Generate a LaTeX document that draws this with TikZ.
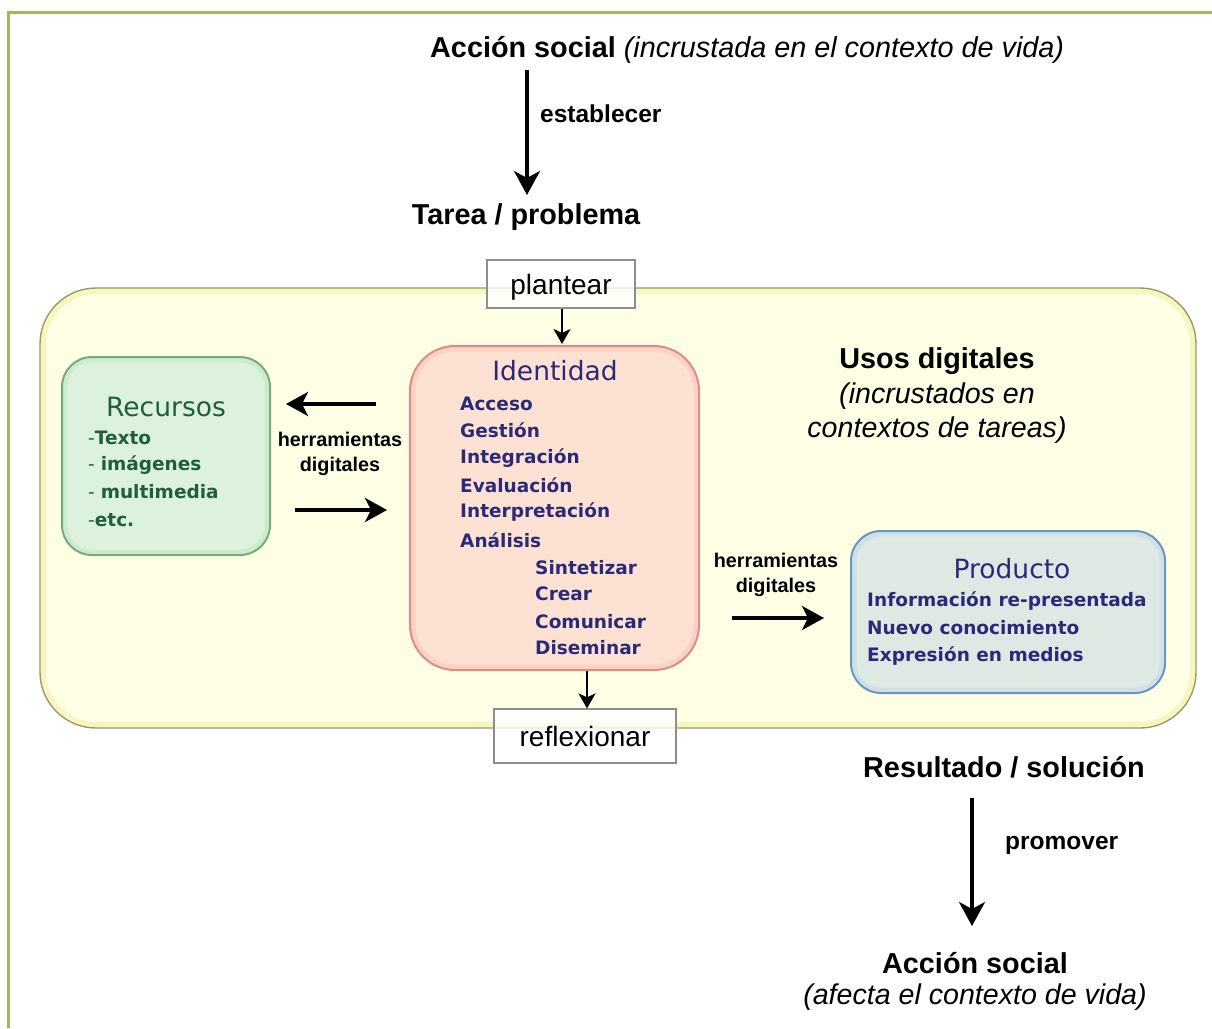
\documentclass[tikz,border=0pt]{standalone}
\usepackage{fontspec}
\setmainfont{Liberation Sans}
\newfontfamily\tah{DejaVu Sans}
\usetikzlibrary{arrows.meta}
\definecolor{framegreen}{HTML}{9BBB59}
\definecolor{usosfill}{HTML}{FFFFE6}
\definecolor{usosband}{HTML}{F6F6BE}
\definecolor{usosedge}{HTML}{9A9A6A}
\definecolor{idfill}{HTML}{FDE2D3}
\definecolor{idband}{HTML}{FAD2C6}
\definecolor{idedge}{HTML}{E38A86}
\definecolor{recfill}{HTML}{DDF2DC}
\definecolor{recband}{HTML}{CDEBCF}
\definecolor{recedge}{HTML}{78AA80}
\definecolor{recink}{HTML}{1F5F3E}
\definecolor{prodfill}{HTML}{DFE9E4}
\definecolor{prodband}{HTML}{CFE0E8}
\definecolor{prodedge}{HTML}{6A96BE}
\definecolor{navy}{HTML}{2A2A78}
\definecolor{tagedge}{HTML}{8E8E8E}
\begin{document}
\begin{tikzpicture}[x=1pt,y=-1pt,
  heading/.style={font=\bfseries\fontsize{28.8}{32}\selectfont, inner sep=0pt},
  verb/.style={font=\bfseries\fontsize{24.5}{28}\selectfont, inner sep=0pt},
  tool/.style={font=\bfseries\fontsize{19.8}{25}\selectfont, align=center, inner sep=0pt},
  tag/.style={draw=tagedge, line width=1.2pt, fill=white, fill opacity=0.8, text opacity=1,
    font=\fontsize{28}{30}\selectfont, inner sep=0pt, text depth=0pt},
  bigarrow/.style={line width=3.6pt, -{Stealth[length=24pt,width=26pt,inset=7pt]}},
  midarrow/.style={line width=3.6pt, -{Stealth[length=22pt,width=24pt,inset=6pt]}},
  smallarrow/.style={line width=2.4pt, -{Stealth[length=15pt,width=17pt,inset=4pt]}},
  boxtitle/.style={font=\tah\fontsize{26.5}{28}\selectfont, inner sep=0pt},
  item/.style={font=\tah\bfseries\fontsize{18.5}{22}\selectfont, anchor=west, inner sep=0pt},
  italic/.style={font=\itshape\fontsize{28.6}{34}\selectfont, align=center, inner sep=0pt},
  band/.style={line width=5pt},
]
\useasboundingbox (0,0) rectangle (1212,1028);

% outer frame, open on the right and at the bottom
\draw[framegreen, line width=3pt] (8.5,1028) -- (8.5,12.5) -- (1212,12.5);

% the field of digital uses
\node[draw=usosband, line width=6pt, fill=usosfill, rounded corners=53pt,
  minimum width=1150pt, minimum height=434pt] (usos) at (618,508) {};
\node[draw=usosedge, line width=1.4pt, rounded corners=56pt,
  minimum width=1156pt, minimum height=440pt] (usosrim) at (618,508) {};

% central box: identity
\node[draw=idband, band, fill=idfill, rounded corners=42pt,
  minimum width=283pt, minimum height=318pt] (id) at (554.5,508) {};
\node[draw=idedge, line width=2pt, rounded corners=45pt,
  minimum width=289pt, minimum height=324pt] (idrim) at (554.5,508) {};
% resources
\node[draw=recband, band, fill=recfill, rounded corners=27pt,
  minimum width=202pt, minimum height=192pt] (rec) at (166,456) {};
\node[draw=recedge, line width=2pt, rounded corners=30pt,
  minimum width=208pt, minimum height=198pt] (recrim) at (166,456) {};
% product
\node[draw=prodband, band, fill=prodfill, rounded corners=27pt,
  minimum width=308pt, minimum height=156pt] (prod) at (1008,612) {};
\node[draw=prodedge, line width=2pt, rounded corners=30pt,
  minimum width=314pt, minimum height=162pt] (prodrim) at (1008,612) {};

% top chain
\node[heading, anchor=base west] (accion) at (430,57)
  {Acción social \mdseries\itshape(incrustada en el contexto de vida)};
\node[heading] (tarea) at (526,217) {Tarea / problema};
\coordinate (e1) at (527,70);
\coordinate (e2) at (527,195);
\draw[bigarrow] (e1) -- (e2);
\node[verb, anchor=west] (establecer) at (540,114) {establecer};

% plan / reflect tags
\node[tag, minimum width=148pt, minimum height=48pt] (plantear) at (561,284) {plantear};
\node[tag, minimum width=182pt, minimum height=54pt] (reflexionar) at (585,736) {reflexionar};
\draw[smallarrow] (plantear.south -| 562,0) -- (562,344);
\draw[smallarrow] (587,671) -- (reflexionar.north -| 587,0);

% identity contents
\node[boxtitle, text=navy] (idt) at (555,371) {Identidad};
\begin{scope}[text=navy]
\node[item] (i1) at (460,404) {Acceso};
\node[item] (i2) at (460,430) {Gestión};
\node[item] (i3) at (460,458) {Integración};
\node[item] (i4) at (460,485) {Evaluación};
\node[item] (i5) at (460,512) {Interpretación};
\node[item] (i6) at (460,540) {Análisis};
\node[item] (i7) at (535,568) {Sintetizar};
\node[item] (i8) at (535,594) {Crear};
\node[item] (i9) at (535,622) {Comunicar};
\node[item] (i10) at (535,648) {Diseminar};
\end{scope}

% resources contents
\node[boxtitle, text=recink] (rect) at (166,407) {Recursos};
\begin{scope}[text=recink]
\node[item] (r1) at (88,438) {\mdseries-\bfseries Texto};
\node[item] (r2) at (88,465) {\mdseries- \bfseries imágenes};
\node[item] (r3) at (88,492) {\mdseries- \bfseries multimedia};
\node[item] (r4) at (88,520) {\mdseries-\bfseries etc.};
\end{scope}

% product contents
\node[boxtitle, text=navy] (prodt) at (1012,569) {Producto};
\begin{scope}[text=navy]
\node[item] (p1) at (867,601) {Información re-presentada};
\node[item] (p2) at (867,628) {Nuevo conocimiento};
\node[item] (p3) at (867,656) {Expresión en medios};
\end{scope}

% tool arrows
\coordinate (l1) at (376,404);
\coordinate (l2) at (286,404);
\draw[midarrow] (l1) -- (l2);
\coordinate (m1) at (295,510);
\coordinate (m2) at (387,510);
\draw[midarrow] (m1) -- (m2);
\node[tool] (tools1) at (340,454) {herramientas\\digitales};
\coordinate (n1) at (732,618);
\coordinate (n2) at (824,618);
\draw[midarrow] (n1) -- (n2);
\node[tool] (tools2) at (776,575) {herramientas\\digitales};

% label of the field
\node[heading] (usost) at (937,361) {Usos digitales};
\node[italic] (usosi) at (937,413) {(incrustados en\\contextos de tareas)};

% bottom chain
\node[heading] (resultado) at (1004,767) {Resultado / solución};
\coordinate (s1) at (972,798);
\coordinate (s2) at (972,926);
\draw[bigarrow] (s1) -- (s2);
\node[verb, anchor=west] (promover) at (1005,845) {promover};
\node[heading] (accion2) at (975,963) {Acción social};
\node[italic] (afecta) at (975,997) {(afecta el contexto de vida)};
\end{tikzpicture}
\end{document}
